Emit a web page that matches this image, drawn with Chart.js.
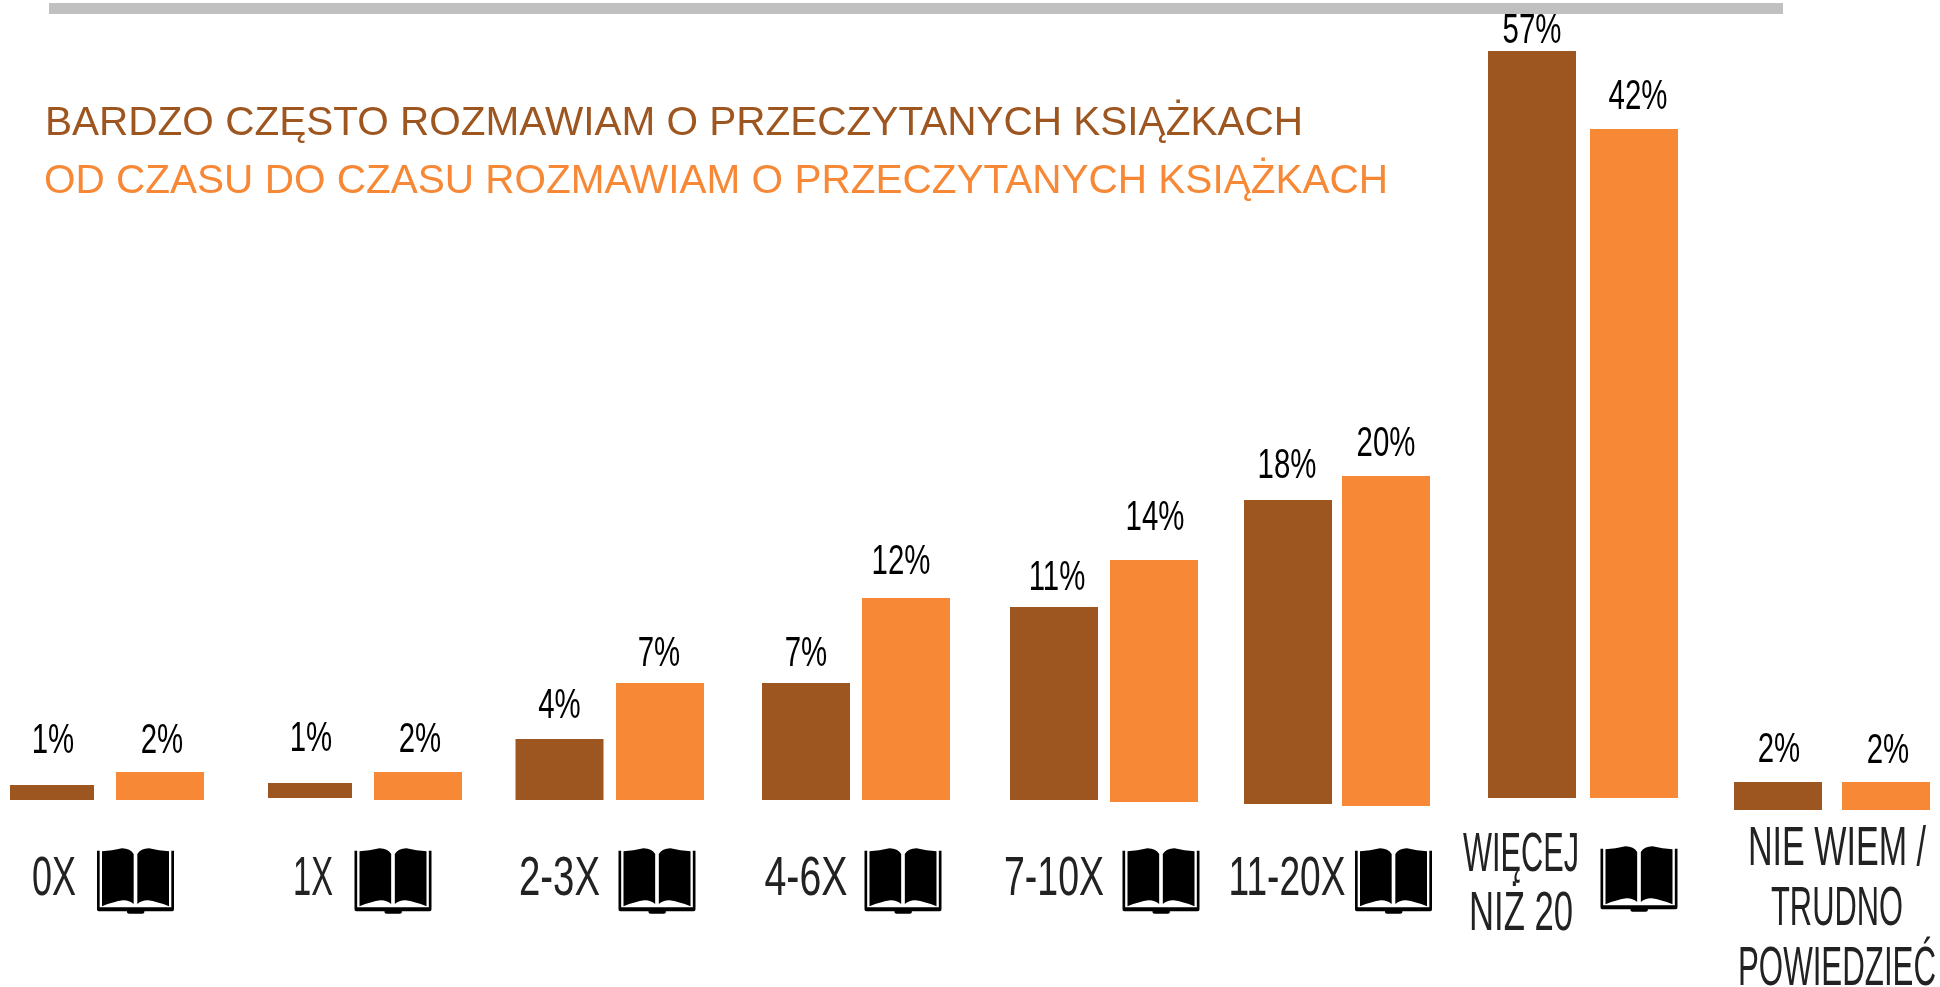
<!DOCTYPE html>
<html lang="pl">
<head>
<meta charset="utf-8">
<title>Rozmowy o książkach</title>
<style>html,body{margin:0;padding:0;background:#fff}canvas{display:block}</style>
<script src="https://cdn.jsdelivr.net/npm/chart.js@4/dist/chart.umd.min.js"></script>
</head>
<body>
<canvas id="c" width="1940" height="987"></canvas>
<script>
// ---- data ----
const categories = ['0X', '1X', '2-3X', '4-6X', '7-10X', '11-20X', 'WIĘCEJ NIŻ 20', 'NIE WIEM / TRUDNO POWIEDZIEĆ'];
const veryOften = [1, 1, 4, 7, 11, 18, 57, 2];
const sometimes = [2, 2, 7, 12, 14, 20, 42, 2];
const seriesNames = ['BARDZO CZĘSTO ROZMAWIAM O PRZECZYTANYCH KSIĄŻKACH', 'OD CZASU DO CZASU ROZMAWIAM O PRZECZYTANYCH KSIĄŻKACH'];

// ---- the picture's own (non proportional) value axis: value -> bar length ----
const axisValues = [0, 1, 2, 4, 7, 11, 12, 14, 18, 20, 42, 57];
const axisLengths = [0, 15, 28, 61, 117, 193, 202, 242, 304, 330, 669, 747];

// ---- hand layout of the infographic: small offsets from the regular grid ----
const colors = ['#9E5620', '#F68836'];
const shiftX = [[-19.25, -3.75, 3.25, 7.25, 12.75, 4.25, 5.75, 9.25], [-11.25, 4.25, 3.75, 7.25, 12.75, 2.25, 7.75, 17.25]];
const shiftY = [[0, -2, 0, 0, 0, 4, -2, 10], [0, 0, 0, 0, 2, 6, -2, 10]];
const trimWidth = [[4, 4, 0, 0, 0, 0, 0, 0], [0, 0, 0, 0, 0, 0, 0, 0]];
const labelLift = [[32, 32, 21, 17, 17, 22, 8, 20], [19, 20, 17, 24, 30, 20, 20, 19]];
const labelShiftX = [[1, 1, 0, 0, 3, -1, 0, 1], [2, 2, -1, -5, 1, 0, 4, 2]];
const categoryLines = [['0X'], ['1X'], ['2-3X'], ['4-6X'], ['7-10X'], ['11-20X'], ['WIĘCEJ', 'NIŻ 20'], ['NIE WIEM /', 'TRUDNO', 'POWIEDZIEĆ']];
const categoryLineWidths = [[44], [40], [81], [83], [100], [117], [116, 104], [178, 132, 198]];
const categoryCenterShift = [2, 3, 0, 0, 0, -1, -11, 59];
const categoryBaseline = [895, 895, 895, 895, 895, 895, 871, 865];
const categoryLineGap = [0, 0, 0, 0, 0, 0, 59, 60];
const bookShift = [-24.5, -25, -3, -3, 7, 7.5, 5, null];
const bookTop = [848, 848, 848, 848, 848, 848, 846, null];

class PictureScale extends Chart.LinearScale {
  static id = 'picture';
  static defaults = Chart.LinearScale.defaults;
  getPixelForValue(v) {
    let i = 1;
    while (i < axisValues.length - 1 && v > axisValues[i]) i++;
    const a = axisValues[i - 1], b = axisValues[i];
    const len = axisLengths[i - 1] + (v - a) / (b - a) * (axisLengths[i] - axisLengths[i - 1]);
    return this.bottom - len;
  }
  getValueForPixel(p) {
    const len = this.bottom - p;
    let i = 1;
    while (i < axisLengths.length - 1 && len > axisLengths[i]) i++;
    const a = axisLengths[i - 1], b = axisLengths[i];
    return axisValues[i - 1] + (len - a) / (b - a) * (axisValues[i] - axisValues[i - 1]);
  }
}
Chart.register(PictureScale);

function squeezed(ctx, text, cx, y, font, sx, color) {
  ctx.save();
  ctx.font = font;
  ctx.fillStyle = color;
  ctx.textAlign = 'center';
  ctx.textBaseline = 'alphabetic';
  ctx.translate(cx, y);
  ctx.scale(sx, 1);
  ctx.fillText(text, 0, 0);
  ctx.restore();
}
function fitted(ctx, text, cx, y, font, width, color) {
  ctx.save();
  ctx.font = font;
  const sx = width / ctx.measureText(text).width;
  ctx.restore();
  squeezed(ctx, text, cx, y, font, sx, color);
}

function drawBook(ctx, cx, top) {
  // icon drawn in a 231 x 197 box, then reduced by 3
  ctx.save();
  ctx.translate(cx - 38.5, top);
  ctx.scale(1 / 3, 1 / 3);
  ctx.fillStyle = '#000';
  ctx.fill(new Path2D('M0 8H8V178H223V8H231V184Q231 190 226 190H142V193Q142 197 136 197H96Q90 197 90 193V190H5Q0 190 0 184Z'));
  ctx.fill(new Path2D('M15 10Q45 8 75 1Q100 2 110 18V168Q95 156 78 157Q50 161 15 175Z'));
  ctx.fill(new Path2D('M216 10Q186 8 156 1Q131 2 121 18V168Q136 156 153 157Q181 161 216 175Z'));
  ctx.restore();
}

const layoutPlugin = {
  id: 'layoutPlugin',
  afterDatasetsUpdate(chart) {
    chart.data.datasets.forEach((ds, d) => {
      chart.getDatasetMeta(d).data.forEach((el, i) => {
        el.x += shiftX[d][i];
        el.y += shiftY[d][i];
        el.base += shiftY[d][i];
        el.width -= trimWidth[d][i];
      });
    });
  },
  beforeDraw(chart) {
    const c = chart.ctx;
    c.save();
    c.fillStyle = '#fff';
    c.fillRect(0, 0, chart.width, chart.height);
    c.fillStyle = '#C0C0C0';
    c.fillRect(49, 3, 1734, 11);
    c.restore();
  },
  afterDatasetsDraw(chart) {
    const c = chart.ctx;
    // series key
    const keyWidth = [1258, 1344], keyLeft = [45, 44], keyBase = [134.5, 193];
    chart.data.datasets.forEach((ds, d) => {
      fitted(c, ds.label, keyLeft[d] + keyWidth[d] / 2, keyBase[d], '40.5px "Liberation Sans"', keyWidth[d], ds.backgroundColor);
    });
    // value labels
    chart.data.datasets.forEach((ds, d) => {
      chart.getDatasetMeta(d).data.forEach((el, i) => {
        squeezed(c, ds.data[i] + '%', el.x + labelShiftX[d][i], el.y - labelLift[d][i], '42px "Liberation Sans"', 0.7, '#000');
      });
    });
    // category labels and books
    const brown = chart.getDatasetMeta(0).data, orange = chart.getDatasetMeta(1).data;
    categories.forEach((name, i) => {
      const cx = brown[i].x + categoryCenterShift[i];
      categoryLines[i].forEach((line, k) => {
        fitted(c, line, cx, categoryBaseline[i] + k * categoryLineGap[i], '56px "Liberation Sans"', categoryLineWidths[i][k], '#222');
      });
      if (bookShift[i] !== null) drawBook(c, orange[i].x + bookShift[i], bookTop[i]);
    });
  }
};

new Chart(document.getElementById('c'), {
  type: 'bar',
  data: {
    labels: categories,
    datasets: [
      { label: seriesNames[0], data: veryOften, backgroundColor: colors[0], clip: false },
      { label: seriesNames[1], data: sometimes, backgroundColor: colors[1], clip: false }
    ]
  },
  options: {
    responsive: false,
    animation: false,
    devicePixelRatio: 1,
    layout: { padding: { top: 0, right: 0, bottom: 187, left: 0 } },
    categoryPercentage: 0.8247,
    barPercentage: 0.88,
    plugins: { legend: { display: false }, tooltip: { enabled: false }, title: { display: false } },
    scales: {
      x: { display: false, grid: { display: false } },
      y: { type: 'picture', display: false, min: 0, max: 57, grid: { display: false } }
    }
  },
  plugins: [layoutPlugin]
});
</script>
</body>
</html>
